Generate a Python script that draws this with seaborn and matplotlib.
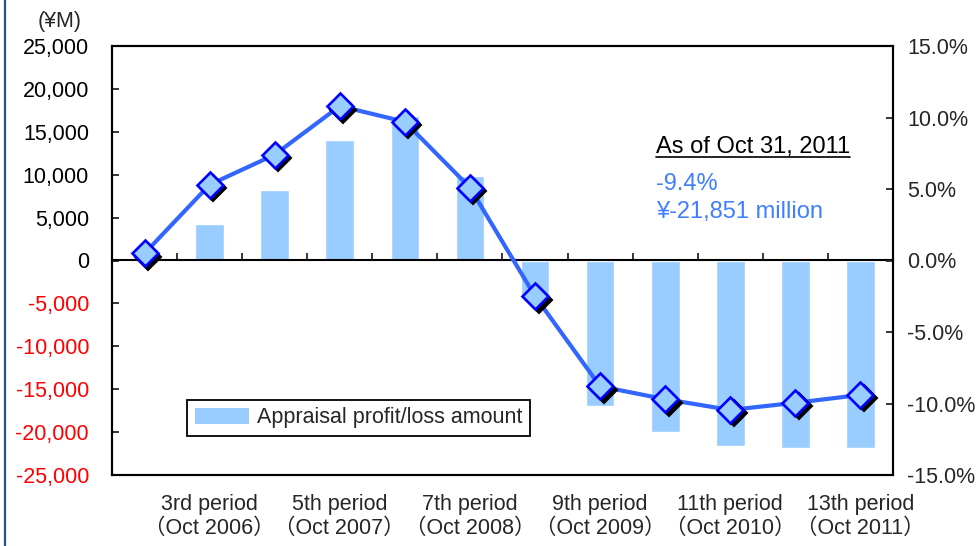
import numpy as np
import pandas as pd
import matplotlib
matplotlib.use("Agg")
import matplotlib.pyplot as plt
import matplotlib.transforms as mtransforms
from matplotlib.lines import Line2D
from matplotlib.patches import Patch
import seaborn as sns

# Fiscal periods (semi-annual)
periods = ["2nd", "3rd", "4th", "5th", "6th", "7th",
           "8th", "9th", "10th", "11th", "12th", "13th"]
# Appraisal profit/loss amount (¥M)
amount = [300, 4250, 8200, 14050, 16850, 9850,
          -4500, -16900, -19950, -21600, -21800, -21851]
# Appraisal profit/loss ratio (%)
ratio = [0.5, 5.3, 7.4, 10.8, 9.7, 5.1,
         -2.5, -8.8, -9.7, -10.45, -9.95, -9.4]
# Labelled periods on the category axis
label_periods = ["3rd", "5th", "7th", "9th", "11th", "13th"]
label_dates = ["Oct 2006", "Oct 2007", "Oct 2008", "Oct 2009", "Oct 2010", "Oct 2011"]

left_ticks = list(range(-25000, 25001, 5000))
right_ticks = list(range(-15, 16, 5))

BAR = "#99CCFF"
LINE = "#3366FF"
EDGE = "#0000FF"
NOTE = "#3F7FFF"

sns.set_style("white")
plt.rcParams["font.family"] = ["Liberation Sans", "Noto Sans CJK JP", "DejaVu Sans"]
plt.rcParams["font.size"] = 15.5

df = pd.DataFrame({"period": periods, "amount": amount, "ratio": ratio})
df["pos"] = np.arange(len(df))

W, H = 978, 546
fig = plt.figure(figsize=(W / 100, H / 100), dpi=100)
ax = fig.add_axes([112 / W, 1 - 475 / H, 781 / W, 429 / H])

# Bars: appraisal profit/loss amount
sns.barplot(data=df, x="pos", y="amount", color=BAR, saturation=1,
            width=0.44, native_scale=True, ax=ax, zorder=2)
leg = ax.get_legend()
if leg is not None:
    leg.remove()
ax.set_xlim(-0.5, len(periods) - 0.5)
ax.set_ylim(-25000, 25000)
ax.set_xlabel("")
ax.set_ylabel("")

ax.set_yticks(left_ticks)
ax.set_yticklabels([f"{v:,}" for v in left_ticks])
for lbl, v in zip(ax.get_yticklabels(), left_ticks):
    lbl.set_color("red" if v < 0 else "black")
ax.tick_params(axis="y", direction="in", length=5, width=1.3, pad=16.5,
               labelsize=15.5, left=True)

# Category labels every other period
pos_of = dict(zip(periods, df["pos"]))
xt = [pos_of[p] for p in label_periods]
ax.set_xticks(xt)
ax.set_xticklabels([f"{p} period\n（{d}）" for p, d in zip(label_periods, label_dates)],
                   linespacing=1.15)
ax.tick_params(axis="x", length=0, pad=14, labelsize=15.5)

for s in ax.spines.values():
    s.set_visible(True)
    s.set_color("black")
    s.set_linewidth(1.5)

# Zero line with category boundary ticks
zero_ax = ax.secondary_xaxis(0.5)
zero_ax.set_xticks(np.arange(0.5, len(periods) - 1, 1.0))
zero_ax.tick_params(axis="x", direction="out", length=5, width=1.3,
                    labeltop=False, labelbottom=False)
for s in zero_ax.spines.values():
    s.set_linewidth(1.5)
    s.set_color("black")
zero_ax.set_zorder(3)

# Line: appraisal profit/loss ratio on the right axis
ax2 = ax.twinx()
sns.lineplot(data=df, x="pos", y="ratio", sort=False, color=LINE, lw=3,
             ax=ax2, zorder=3)
shadow = mtransforms.offset_copy(ax2.transData, fig=fig, x=3.5, y=-3.5, units="dots")
ax2.plot(df["pos"], df["ratio"], ls="none", marker="D", ms=13.5,
         mfc="black", mec="black", mew=1.5, transform=shadow, zorder=4)
ax2.plot(df["pos"], df["ratio"], ls="none", marker="D", ms=13.5,
         mfc=BAR, mec=EDGE, mew=1.9, zorder=5)
ax2.set_ylim(-15, 15)
ax2.set_xlim(-0.5, len(periods) - 0.5)
ax2.set_ylabel("")
ax2.set_xlabel("")
ax2.set_yticks(right_ticks)
ax2.set_yticklabels([f"{v:.1f}%" for v in right_ticks])
ax2.tick_params(axis="y", direction="in", length=5, width=1.3, pad=10,
                labelsize=15.5, right=True)
for s in ax2.spines.values():
    s.set_color("black")
    s.set_linewidth(1.5)

ax2.legend(handles=[Patch(facecolor=BAR, edgecolor="none")],
           labels=["Appraisal profit/loss amount"],
           loc="upper left", bbox_to_anchor=(0.096, 0.175), borderaxespad=0,
           frameon=True, fancybox=False, edgecolor="black", framealpha=1,
           fontsize=15.5, handlelength=2.55, handleheight=0.8,
           handletextpad=0.35, borderpad=0.35)
ax2.get_legend().get_frame().set_linewidth(1.3)

# Unit label
fig.text(82 / W, 1 - 22 / H, "(¥M)", ha="right", va="center", fontsize=15.5)

# Latest figures
head = fig.text(656 / W, 1 - 153 / H, "As of Oct 31, 2011", ha="left",
                va="baseline", fontsize=17, color="black")
fig.text(656 / W, 1 - 190 / H, "-9.4%", ha="left", va="baseline",
         fontsize=17, color=NOTE)
fig.text(656 / W, 1 - 218 / H, "¥-21,851 million", ha="left", va="baseline",
         fontsize=17, color=NOTE)

fig.canvas.draw()
bb = head.get_window_extent()
uy = 1 - 157 / H
fig.add_artist(Line2D([bb.x0 / W, bb.x1 / W], [uy, uy], color="black", lw=1.2,
                      transform=fig.transFigure))

# Left page rule
fig.add_artist(Line2D([5 / W, 5 / W], [0, 1], color="#2B4C9B", lw=1.6,
                      transform=fig.transFigure))

fig.savefig("out.png", dpi=100)
